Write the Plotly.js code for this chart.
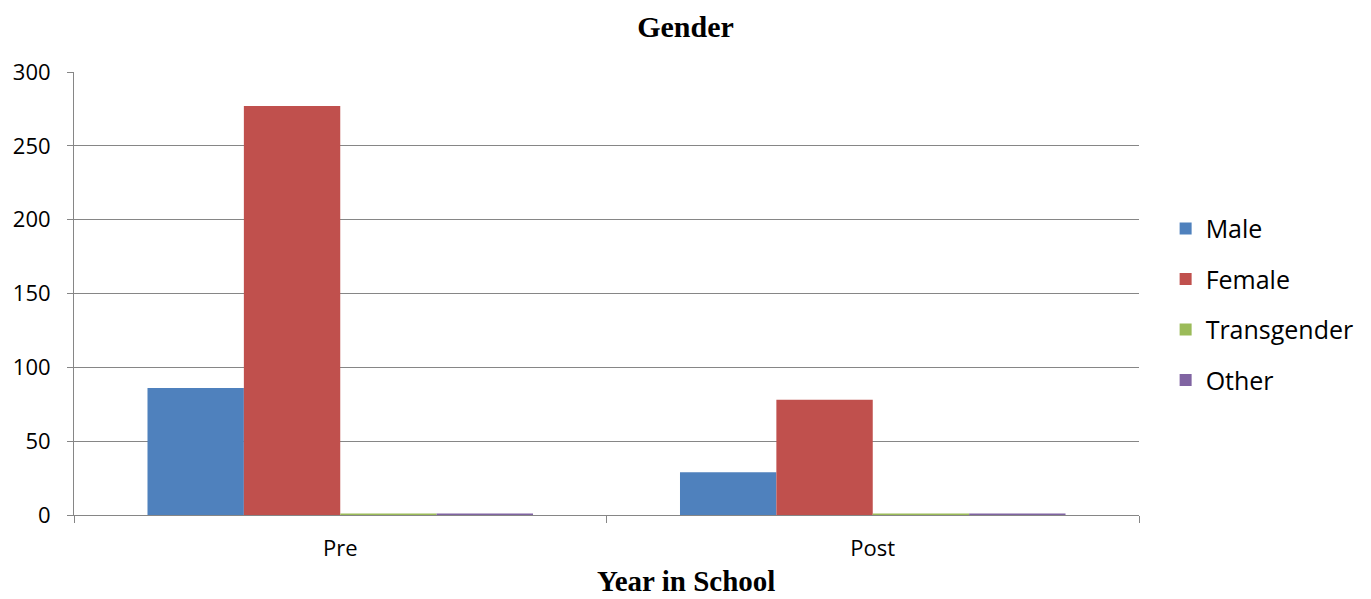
<!DOCTYPE html>
<html><head><meta charset="utf-8">
<script src="https://cdn.plot.ly/plotly-3.0.1.min.js"></script>
<style>html,body{margin:0;padding:0;background:#fff;}#chart{width:1371px;height:599px;}</style>
</head><body><div id="chart"></div>
<script>
const categories = ["Pre", "Post"];
const seriesNames = ["Male", "Female", "Transgender", "Other"];
const male = [86, 29];
const female = [277, 78];
const transgender = [1, 1];
const other = [1, 1];
const colors = ["#4F81BD", "#C0504D", "#9BBB59", "#8064A2"];
const yTicks = [0, 50, 100, 150, 200, 250, 300];

const values = [male, female, transgender, other];
const traces = seriesNames.map((n, i) => ({
  type: "bar", name: n, x: categories, y: values[i],
  marker: {color: colors[i]}, legendgroup: "g" + i, hoverinfo: "none"
}));

const layout = {
  width: 1371, height: 599,
  margin: {l: 74, r: 232, t: 72, b: 84},
  paper_bgcolor: "#fff", plot_bgcolor: "#fff",
  barmode: "group", bargap: 0.276, bargroupgap: 0,
  title: {text: "<b>Gender</b>", font: {family: "Liberation Serif", size: 30, color: "#000"}, x: 0.5, xref: "container", y: 0.955, yanchor: "middle"},
  font: {family: "Open Sans", color: "#000"},
  xaxis: {
    type: "category", tickson: "boundaries", ticks: "outside", ticklen: 7, tickcolor: "#868686",
    showline: true, linecolor: "#868686", linewidth: 1, showgrid: false,
    tickfont: {family: "Open Sans", size: 22, color: "#000"}, ticklabelstandoff: 14
  },
  yaxis: {
    range: [0, 300], tickvals: yTicks, ticks: "outside", ticklen: 6, tickcolor: "#868686",
    showline: true, linecolor: "#868686", showgrid: true, gridcolor: "#868686", gridwidth: 1,
    zeroline: false, tickfont: {family: "Open Sans", size: 22, color: "#000"}, ticklabelstandoff: 12
  },
  annotations: [{
    text: "<b>Year in School</b>", xref: "paper", yref: "paper", x: 0.5746, y: -0.149,
    xanchor: "center", yanchor: "middle", showarrow: false, borderpad: 0,
    font: {family: "Liberation Serif", size: 29, color: "#000"}
  }],
  legend: {x: 1.025, xanchor: "left", y: 0.476, yanchor: "middle", font: {family: "Open Sans", size: 25, color: "#000"}, tracegroupgap: 15, traceorder: "grouped"},
  showlegend: true
};
Plotly.newPlot("chart", traces, layout, {displayModeBar: false, staticPlot: true});
</script></body></html>
